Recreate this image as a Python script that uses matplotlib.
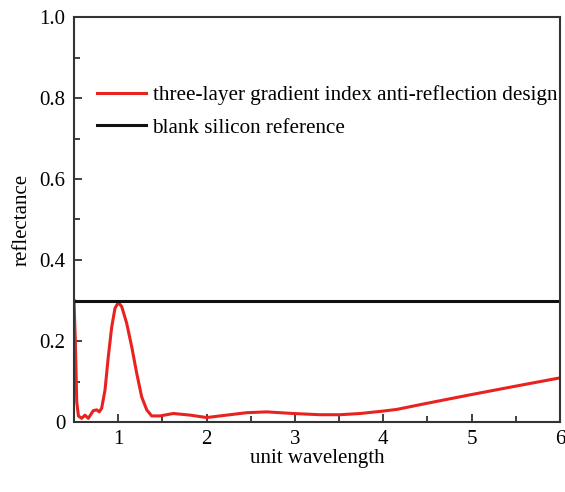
import matplotlib
matplotlib.use("Agg")
import matplotlib.pyplot as plt
from matplotlib.ticker import MultipleLocator, FuncFormatter

plt.rcParams['font.family'] = ['Liberation Serif', 'DejaVu Serif']

wl = [0.5, 0.515, 0.531, 0.55, 0.587, 0.624, 0.662, 0.718, 0.757, 0.786, 0.813, 0.851, 0.888, 0.927,
      0.964, 1.001, 1.040, 1.096, 1.153, 1.210, 1.266, 1.323, 1.379, 1.473, 1.549, 1.624, 1.813, 2.002,
      2.228, 2.455, 2.68, 2.98, 3.28, 3.51, 3.74, 4.0, 4.15, 4.49, 4.98, 5.51, 6.0]
refl = [0.30, 0.20, 0.05, 0.015, 0.009, 0.017, 0.009, 0.028, 0.030, 0.025, 0.034, 0.079, 0.161, 0.235,
        0.281, 0.295, 0.285, 0.244, 0.186, 0.120, 0.062, 0.030, 0.015, 0.015, 0.018, 0.021, 0.017, 0.011,
        0.017, 0.023, 0.025, 0.021, 0.018, 0.018, 0.021, 0.027, 0.031, 0.046, 0.067, 0.089, 0.109]
silicon = 0.30

fig = plt.figure(figsize=(5.65, 4.92), dpi=100)
ax = fig.add_axes([74/565, 1-422/492, (560-74)/565, (422-17)/492])

ax.plot(wl, refl, color='#e8231f', lw=2.2, solid_joinstyle='round',
        label='three-layer gradient index anti-reflection design')
ax.axhline(silicon, color='#111111', lw=2.2, label='blank silicon reference')

ax.set_xlim(0.5, 6)
ax.set_ylim(0, 1.0)
ax.xaxis.set_major_locator(MultipleLocator(1))
ax.xaxis.set_minor_locator(MultipleLocator(0.5))
ax.yaxis.set_major_locator(MultipleLocator(0.2))
ax.yaxis.set_minor_locator(MultipleLocator(0.1))
ax.yaxis.set_major_formatter(FuncFormatter(lambda v, p: '0' if abs(v) < 1e-9 else f'{v:.1f}'))
ax.tick_params(which='both', direction='in', top=False, right=False, labelsize=15, color='#333333')
ax.tick_params(which='major', length=6, width=1.3, pad=6)
ax.tick_params(which='minor', length=4, width=1.3)
for s in ax.spines.values():
    s.set_linewidth(1.5)
    s.set_color('#333333')

ax.set_xlabel('unit wavelength', fontsize=15, labelpad=0)
ax.set_ylabel('reflectance', fontsize=15, labelpad=6)

ax.legend(loc='upper left', bbox_to_anchor=(23/486, 0.832), frameon=False, fontsize=15.2,
          handlelength=2.3, handletextpad=0.33, labelspacing=0.62, borderaxespad=0, borderpad=0)

fig.savefig('out.png', dpi=100)
